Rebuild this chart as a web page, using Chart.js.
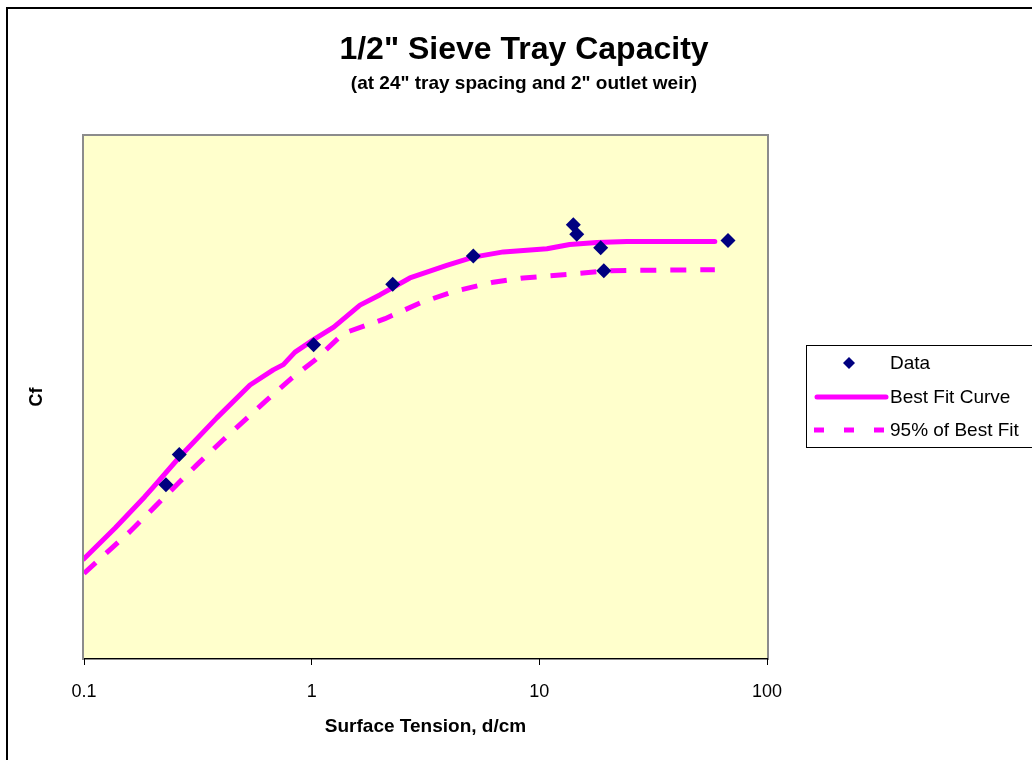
<!DOCTYPE html>
<html>
<head>
<meta charset="utf-8">
<script src="https://cdn.jsdelivr.net/npm/chart.js@4"></script>
<style>
  html, body { margin: 0; padding: 0; background: #fff; }
</style>
</head>
<body>
<canvas id="tray" width="1032" height="760"></canvas>
<script>
const titleText = '1/2" Sieve Tray Capacity';
const subtitleText = '(at 24" tray spacing and 2" outlet weir)';

// measured points
const dataX = [0.229, 0.262, 1.02, 2.27, 5.13, 14.1, 14.6, 18.6, 19.2, 67.4];
const dataY = [0.266, 0.295, 0.400, 0.458, 0.485, 0.515, 0.506, 0.493, 0.471, 0.500];

// best fit curve
const fitX = [0.1, 0.137, 0.185, 0.202, 0.264, 0.383, 0.536, 0.678, 0.751, 0.845, 1.02, 1.25, 1.63, 2.0, 2.7, 3.92, 5.13, 6.95, 10.8, 13.6, 17.9, 24.2, 59];
const fitY = [0.195, 0.2245, 0.2545, 0.264, 0.293, 0.330, 0.3615, 0.376, 0.381, 0.393, 0.405, 0.417, 0.438, 0.448, 0.464, 0.476, 0.484, 0.489, 0.492, 0.496, 0.498, 0.499, 0.499];

// 95% of best fit
const lowX = [0.1, 0.132, 0.159, 0.205, 0.264, 0.313, 0.409, 0.527, 0.624, 0.817, 1.03, 1.38, 2.1, 2.99, 4.19, 6.28, 8.5, 15.1, 20.4, 59];
const lowY = [0.181, 0.205, 0.221, 0.245, 0.269, 0.285, 0.309, 0.331, 0.3455, 0.368, 0.385, 0.411, 0.425, 0.440, 0.451, 0.460, 0.464, 0.4685, 0.471, 0.472];

const xTicks = [0.1, 1, 10, 100];

const pts = (xs, ys) => xs.map((x, i) => ({x: x, y: ys[i]}));
const FONT = '"Liberation Sans", Arial, sans-serif';

const frame = {
  id: 'frame',
  beforeDraw(chart) {
    const {ctx, chartArea: a} = chart;
    ctx.save();
    ctx.fillStyle = '#fff';
    ctx.fillRect(0, 0, chart.width, chart.height);
    // outer border (runs off the right and bottom edges)
    ctx.strokeStyle = '#000';
    ctx.lineWidth = 2;
    ctx.strokeRect(7, 8, chart.width + 20, chart.height + 20);
    // plot area
    ctx.fillStyle = '#FFFFCC';
    ctx.fillRect(a.left, a.top, a.right - a.left, a.bottom - a.top);
    ctx.strokeStyle = '#8c8c8c';
    ctx.strokeRect(a.left - 1, a.top - 1, a.right - a.left + 2, a.bottom - a.top + 2);
    // titles
    ctx.fillStyle = '#000';
    ctx.textAlign = 'center';
    ctx.textBaseline = 'middle';
    ctx.font = 'bold 32px ' + FONT;
    ctx.fillText(titleText, 524, 50);
    ctx.font = 'bold 19px ' + FONT;
    ctx.fillText(subtitleText, 524, 84);
    ctx.restore();
  },
  afterDraw(chart) {
    const ctx = chart.ctx;
    const ds = chart.data.datasets;
    ctx.save();
    ctx.fillStyle = '#fff';
    ctx.fillRect(806, 345, 240, 102);
    ctx.strokeStyle = '#000';
    ctx.lineWidth = 1;
    ctx.strokeRect(806.5, 345.5, 240, 102);
    const rows = [363, 397, 430];
    ds.forEach((d, i) => {
      const y = rows[i];
      if (d.showLine) {
        ctx.strokeStyle = d.borderColor;
        ctx.lineWidth = d.borderWidth;
        ctx.lineCap = d.borderDash ? 'butt' : 'round';
        ctx.setLineDash(d.borderDash ? [10, 20] : []);
        ctx.beginPath();
        ctx.moveTo(d.borderDash ? 814 : 817, y);
        ctx.lineTo(886, y);
        ctx.stroke();
        ctx.setLineDash([]);
      } else {
        ctx.fillStyle = d.backgroundColor;
        ctx.beginPath();
        ctx.moveTo(849, y - 6);
        ctx.lineTo(855, y);
        ctx.lineTo(849, y + 6);
        ctx.lineTo(843, y);
        ctx.closePath();
        ctx.fill();
      }
      ctx.fillStyle = '#000';
      ctx.font = '19px ' + FONT;
      ctx.textAlign = 'left';
      ctx.textBaseline = 'middle';
      ctx.fillText(d.label, 890, y + 1);
    });
    ctx.restore();
  }
};

new Chart(document.getElementById('tray'), {
  type: 'scatter',
  data: {
    datasets: [{
      label: 'Data',
      data: pts(dataX, dataY),
      showLine: false,
      pointStyle: 'rectRot',
      pointRadius: 7.5,
      pointHoverRadius: 7.5,
      backgroundColor: '#000080',
      borderColor: '#000080',
      borderWidth: 0,
      order: 0
    }, {
      label: 'Best Fit Curve',
      data: pts(fitX, fitY),
      showLine: true,
      pointRadius: 0,
      borderColor: '#FF00FF',
      borderWidth: 5,
      borderJoinStyle: 'round',
      borderCapStyle: 'round',
      tension: 0,
      order: 1
    }, {
      label: '95% of Best Fit',
      data: pts(lowX, lowY),
      showLine: true,
      pointRadius: 0,
      borderColor: '#FF00FF',
      borderWidth: 5,
      borderDash: [16, 14],
      borderCapStyle: 'butt',
      tension: 0,
      order: 2
    }]
  },
  options: {
    responsive: false,
    animation: false,
    layout: { padding: { top: 136, right: 265, left: 0, bottom: 0 } },
    plugins: {
      legend: { display: false },
      title: { display: false },
      tooltip: { enabled: false }
    },
    scales: {
      x: {
        type: 'logarithmic',
        min: 0.1,
        max: 100,
        afterBuildTicks: s => { s.ticks = xTicks.map(v => ({value: v})); },
        afterFit: s => { s.height = 102; },
        grid: { display: true, drawOnChartArea: false, drawTicks: true, tickLength: 7, color: '#000' },
        border: { display: true, color: '#000', width: 1 },
        ticks: {
          color: '#000',
          padding: 16,
          maxRotation: 0,
          font: { family: FONT, size: 18 },
          callback: v => String(v)
        },
        title: {
          display: true,
          text: 'Surface Tension, d/cm',
          color: '#000',
          font: { family: FONT, size: 19, weight: 'bold' },
          padding: { top: 0, bottom: 22 }
        }
      },
      y: {
        min: 0.1,
        max: 0.6,
        afterFit: s => { s.width = 84; },
        grid: { display: false },
        border: { display: false },
        ticks: { display: false },
        title: {
          display: true,
          text: 'Cf',
          color: '#000',
          font: { family: FONT, size: 18, weight: 'bold' },
          padding: { top: 26, bottom: 0 }
        }
      }
    }
  },
  plugins: [frame]
});
</script>
</body>
</html>
